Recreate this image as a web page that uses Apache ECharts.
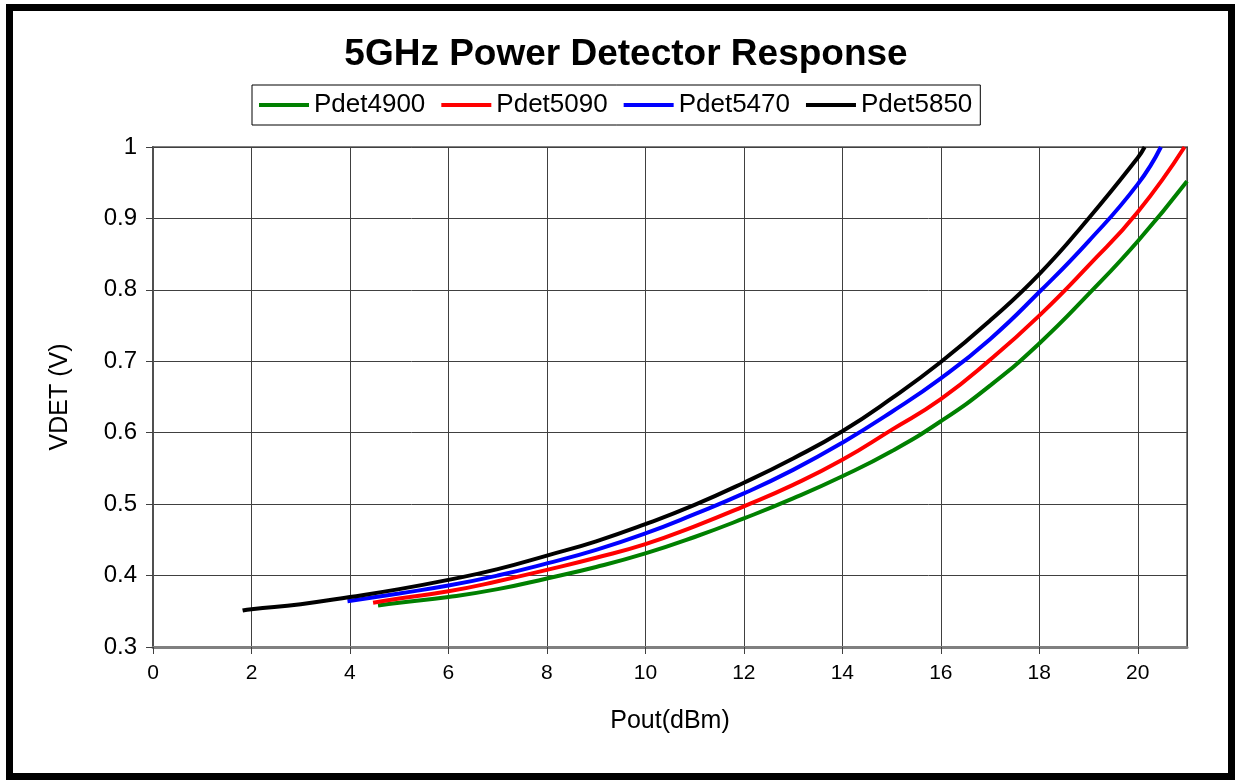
<!DOCTYPE html>
<html>
<head>
<meta charset="utf-8">
<script src="https://cdn.jsdelivr.net/npm/echarts@6/dist/echarts.min.js"></script>
<style>
  html, body { margin: 0; padding: 0; background: #fff; }
  #chart { width: 1235px; height: 780px; }
</style>
</head>
<body>
<div id="chart"></div>
<script>
// values
const seriesNames = ['Pdet4900', 'Pdet5090', 'Pdet5470', 'Pdet5850']
const seriesColors = ['#008000', '#ff0000', '#0000ff', '#000000']

const pdet4900X = [4.57, 5, 6, 7, 8, 9, 10, 11, 12, 13, 14, 15, 16, 17, 18, 19, 20, 21]
const pdet4900Y = [0.358, 0.362, 0.370, 0.381, 0.396, 0.412, 0.431, 0.454, 0.480, 0.508, 0.539, 0.574, 0.616, 0.666, 0.725, 0.794, 0.868, 0.952]

const pdet5090X = [4.47, 5, 6, 7, 8, 9, 10, 11, 12, 13, 14, 15, 16, 17, 18, 19, 20, 20.95]
const pdet5090Y = [0.362, 0.368, 0.378, 0.392, 0.408, 0.425, 0.444, 0.469, 0.497, 0.527, 0.562, 0.604, 0.647, 0.702, 0.764, 0.834, 0.909, 1.0]

const pdet5470X = [3.95, 5, 6, 7, 8, 9, 10, 11, 12, 13, 14, 15, 16, 17, 18, 19, 20, 20.47]
const pdet5470Y = [0.364, 0.375, 0.386, 0.400, 0.417, 0.436, 0.459, 0.486, 0.515, 0.548, 0.586, 0.629, 0.676, 0.731, 0.797, 0.868, 0.948, 1.0]

const pdet5850X = [1.82, 2, 3, 4, 5, 6, 7, 8, 9, 10, 11, 12, 13, 14, 15, 16, 17, 18, 19, 20, 20.14]
const pdet5850Y = [0.351, 0.353, 0.360, 0.370, 0.381, 0.394, 0.409, 0.428, 0.448, 0.472, 0.499, 0.530, 0.564, 0.602, 0.648, 0.699, 0.757, 0.822, 0.900, 0.985, 1.0]

const xTicks = [0, 2, 4, 6, 8, 10, 12, 14, 16, 18, 20]
const yTicks = [0.3, 0.4, 0.5, 0.6, 0.7, 0.8, 0.9, 1]

const allX = [pdet4900X, pdet5090X, pdet5470X, pdet5850X]
const allY = [pdet4900Y, pdet5090Y, pdet5470Y, pdet5850Y]

const fontFamily = 'Arial, "Liberation Sans", sans-serif'

let chart = echarts.init(document.getElementById('chart'))

let series = seriesNames.map((name, i) => {
  return {
    name: name,
    type: 'line',
    smooth: true,
    showSymbol: false,
    symbol: 'none',
    data: allX[i].map((x, j) => [x, allY[i][j]]),
    lineStyle: { color: seriesColors[i], width: 4 },
    itemStyle: { color: seriesColors[i] },
    z: 3 + i
  }
})

let option = {
  backgroundColor: '#fff',
  animation: false,
  title: {
    text: '5GHz Power Detector Response',
    left: 621,
    textAlign: 'center',
    top: 31,
    textStyle: { fontFamily: fontFamily, fontSize: 37, fontWeight: 'bold', color: '#000' }
  },
  legend: {
    data: seriesNames,
    left: 252,
    top: 85,
    padding: [7, 8, 7, 7],
    itemGap: 16,
    itemWidth: 50,
    itemHeight: 4,
    icon: 'rect',
    borderColor: '#000',
    borderWidth: 1,
    textStyle: { fontFamily: fontFamily, fontSize: 26, color: '#000', padding: [0, 0, 0, 0] }
  },
  grid: {
    left: 153,
    right: 48,
    top: 147,
    bottom: 133,
    show: true,
    borderColor: '#808080',
    borderWidth: 2,
    backgroundColor: '#fff'
  },
  xAxis: {
    type: 'value',
    min: 0,
    max: 21,
    interval: 2,
    name: 'Pout(dBm)',
    nameLocation: 'middle',
    nameGap: 62,
    nameTextStyle: { fontFamily: fontFamily, fontSize: 25, color: '#000' },
    axisLine: { show: true, onZero: false, lineStyle: { color: '#808080', width: 3 } },
    axisTick: { show: true, inside: false, length: 7, lineStyle: { color: '#404040', width: 1 } },
    axisLabel: {
      margin: 16,
      showMaxLabel: false,
      fontFamily: fontFamily,
      fontSize: 21,
      color: '#000',
      formatter: v => xTicks.includes(v) ? String(v) : ''
    },
    splitLine: { show: true, lineStyle: { color: '#404040', width: 1 } }
  },
  yAxis: {
    type: 'value',
    min: 0.3,
    max: 1,
    interval: 0.1,
    name: 'VDET (V)',
    nameLocation: 'middle',
    nameGap: 80,
    nameTextStyle: { fontFamily: fontFamily, fontSize: 25, color: '#000' },
    axisLine: { show: true, onZero: false, lineStyle: { color: '#505050', width: 2 } },
    axisTick: { show: true, inside: false, length: 7, lineStyle: { color: '#404040', width: 1 } },
    axisLabel: {
      margin: 16,
      fontFamily: fontFamily,
      fontSize: 24,
      color: '#000',
      formatter: v => {
        let t = yTicks.find(y => Math.abs(y - v) < 1e-6)
        return t === undefined ? '' : String(t)
      }
    },
    splitLine: { show: true, lineStyle: { color: '#404040', width: 1 } }
  },
  graphic: [{
    type: 'rect',
    shape: { x: 9.5, y: 7.5, width: 1222, height: 769 },
    style: { fill: null, stroke: '#000', lineWidth: 7 },
    silent: true,
    z: 100
  }],
  series: series
}

chart.setOption(option)
</script>
</body>
</html>
